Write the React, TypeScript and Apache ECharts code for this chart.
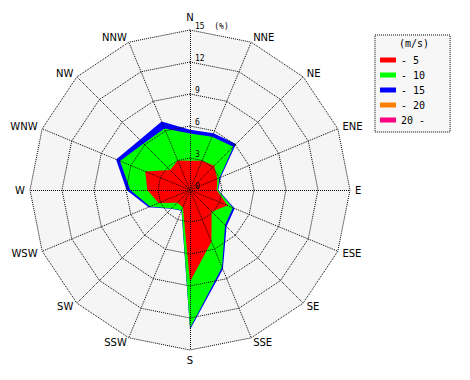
import React, { useEffect, useRef } from 'react';
import * as echarts from 'echarts';

// Compass directions, clockwise from north
const directions = ['N', 'NNE', 'NE', 'ENE', 'E', 'ESE', 'SE', 'SSE', 'S', 'SSW', 'SW', 'WSW', 'W', 'WNW', 'NW', 'NNW'];
// Wind speed classes (m/s)
const speedClasses = ['- 5', '- 10', '- 15', '- 20', '20 -'];
const classColors = ['#ff0000', '#00ff00', '#0000ff', '#ff8000', '#ff0080'];
// Radial ticks (%)
const radiusTicks = [0, 3, 6, 9, 12, 15];

// Frequency (%) per direction for each speed class (clockwise from N)
const speed0to5 = [2.75, 2.97, 3.2, 2.78, 2.5, 3.8, 2.87, 5.25, 8.6, 1.75, 1.7, 3.2, 4.0, 4.55, 2.65, 3.0];
const speed5to10 = [2.55, 2.43, 2.55, 0.22, 0.1, 0.55, 1.78, 2.6, 4.35, 0.3, 0.75, 0.85, 1.6, 2.55, 3.5, 3.25];
const speed10to15 = [0.35, 0.35, 0.35, 0.12, 0.05, 0.18, 0.2, 0.2, 0.15, 0.05, 0.05, 0.15, 0.35, 0.4, 0.5, 0.7];
const speed15to20 = [0, 0, 0, 0, 0, 0, 0, 0, 0, 0, 0, 0, 0, 0, 0, 0];
const speed20up = [0, 0, 0, 0, 0, 0, 0, 0, 0, 0, 0, 0, 0, 0, 0, 0];

const classValues = [speed0to5, speed5to10, speed10to15, speed15to20, speed20up];

export default function App() {
  const ref = useRef<HTMLDivElement>(null);

  useEffect(() => {
    if (!ref.current) return;
    const chart = echarts.init(ref.current, null, { renderer: 'svg' });

    // radar indicators go counter-clockwise; reorder so that directions run clockwise
    const order = [0];
    for (let i = directions.length - 1; i >= 1; i--) order.push(i);

    const maxR = radiusTicks[radiusTicks.length - 1];
    const splitN = radiusTicks.length - 1;

    // cumulative sums
    const cumulative: number[][] = [];
    let running = directions.map(() => 0);
    classValues.forEach((vals) => {
      running = running.map((r, i) => r + vals[i]);
      cumulative.push(running.slice());
    });

    const baseRadar = {
      center: [190, 190],
      radius: 160,
      startAngle: 90,
      shape: 'polygon',
      splitNumber: splitN,
    };

    const dotted = { color: '#000', type: [1, 1], width: 1, cap: 'butt' };

    const indicatorsBg = order.map((i) => ({ name: directions[i], min: 0, max: maxR }));
    const indicatorsFg = order.map((i, k) => {
      const ind: any = { name: directions[i], min: 0, max: maxR };
      if (k === 0) {
        ind.axisLabel = {
          show: true,
          margin: -5,
          align: 'left',
          verticalAlign: 'bottom',
          fontSize: 8,
          fontFamily: 'DejaVu Sans Mono',
          color: '#000000',
          formatter: (v: number) => (v === maxR ? `${v}  (%)` : String(v)),
        };
      }
      return ind;
    });

    const series: any[] = [];
    for (let c = speedClasses.length - 1; c >= 0; c--) {
      const isEmpty = classValues[c].every((v) => v === 0);
      series.push({
        type: 'radar',
        name: speedClasses[c],
        radarIndex: 0,
        symbol: 'none',
        color: classColors[c],
        itemStyle: { color: classColors[c] },
        lineStyle: { width: 0, color: classColors[c] },
        areaStyle: { color: classColors[c], opacity: isEmpty ? 0 : 1 },
        silent: true,
        data: [{ name: speedClasses[c], value: order.map((i) => cumulative[c][i]) }],
      });
    }

    chart.setOption({
      animation: false,
      backgroundColor: '#ffffff',
      title: {
        text: '(m/s)',
        left: 399,
        top: 38,
        padding: 0,
        textStyle: { fontFamily: 'DejaVu Sans Mono', fontSize: 10, fontWeight: 'normal', color: '#000' },
      },
      legend: {
        orient: 'vertical',
        left: 375,
        top: 35,
        padding: [19, 25, 6, 5],
        itemWidth: 16,
        itemHeight: 5,
        itemGap: 3,
        icon: 'rect',
        selectedMode: false,
        backgroundColor: '#f7f7f7',
        borderColor: '#000',
        borderWidth: 1,
        borderType: [1, 1],
        textStyle: { fontFamily: 'DejaVu Sans Mono', fontSize: 10, color: '#000', lineHeight: 12 },
        data: speedClasses.map((n, c) => ({ name: n, icon: 'rect', itemStyle: { color: classColors[c] } })),
      },
      radar: [
        {
          ...baseRadar,
          indicator: indicatorsBg,
          axisName: { show: false },
          axisLine: { show: false },
          axisTick: { show: false },
          axisLabel: { show: false },
          splitLine: { show: false },
          splitArea: { show: true, areaStyle: { color: ['#f5f5f5'] } },
        },
        {
          ...baseRadar,
          z: 5,
          indicator: indicatorsFg,
          nameGap: 5,
          axisName: { color: '#000', fontSize: 10, fontFamily: 'DejaVu Sans' },
          axisLine: { show: true, lineStyle: dotted },
          axisTick: { show: false },
          axisLabel: { show: false, color: '#000000' },
          splitLine: { show: true, lineStyle: dotted },
          splitArea: { show: false },
        },
      ],
      series,
    });

    return () => chart.dispose();
  }, []);

  return <div ref={ref} style={{ position: 'fixed', left: 0, top: 0, width: 470, height: 380 }} />;
}
